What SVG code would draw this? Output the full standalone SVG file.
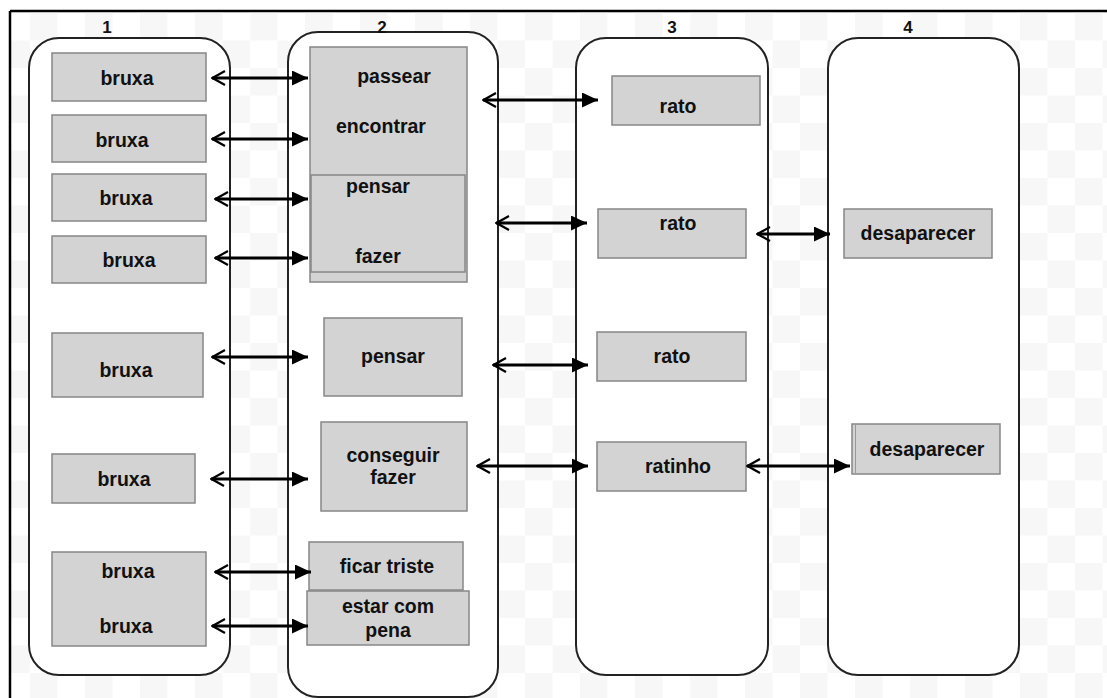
<svg xmlns="http://www.w3.org/2000/svg" width="1107" height="698" viewBox="0 0 1107 698">
<style>
.col{fill:#fff;stroke:#222;stroke-width:2}
.box{fill:#d3d3d3;stroke:#878787;stroke-width:1.5}
.t{font-family:"Liberation Sans",Arial,sans-serif;font-weight:bold;font-size:19.5px;fill:#111;text-anchor:middle}
.n{font-family:"Liberation Sans",Arial,sans-serif;font-weight:bold;font-size:17px;fill:#111;text-anchor:middle}
.c{stroke:#000;stroke-width:3;fill:none;marker-end:url(#head);marker-start:url(#tail)}
</style>
<defs>
<pattern id="chk" x="30" y="13" width="55" height="55" patternUnits="userSpaceOnUse">
<rect width="27.5" height="27.5" fill="#f7f7f7"/>
<rect x="27.5" y="27.5" width="27.5" height="27.5" fill="#f7f7f7"/>
</pattern>
<marker id="head" markerUnits="userSpaceOnUse" markerWidth="17" markerHeight="15" refX="16" refY="7.5" orient="auto">
<path d="M0,0 L16,7.5 L0,15 z" fill="#000"/>
</marker>
<marker id="tail" markerUnits="userSpaceOnUse" markerWidth="17" markerHeight="17" refX="1" refY="8" orient="auto">
<path d="M14,1 L1.5,8 L14,15" fill="none" stroke="#000" stroke-width="2.2"/>
</marker>
</defs>
<rect width="1107" height="698" fill="#fff"/>
<rect x="11" y="12" width="1096" height="686" fill="url(#chk)"/>
<g id="frame">
<line x1="10" y1="11" x2="1107" y2="11" stroke="#000" stroke-width="2.5"/>
<line x1="10" y1="11" x2="10" y2="698" stroke="#000" stroke-width="2.5"/>
</g>
<g id="col1"><rect class="col" x="29" y="38" width="201" height="637" rx="30"/><text class="n" x="107" y="33">1</text></g>
<g id="col2"><rect class="col" x="288" y="32" width="210" height="665" rx="30"/><text class="n" x="382" y="33">2</text></g>
<g id="col3"><rect class="col" x="576" y="38" width="192" height="637" rx="30"/><text class="n" x="672" y="33">3</text></g>
<g id="col4"><rect class="col" x="828" y="38" width="191" height="637" rx="30"/><text class="n" x="908" y="33">4</text></g>

<g id="b1"><rect class="box" x="52" y="53" width="154" height="48"/><text class="t" x="127" y="85">bruxa</text></g>
<g id="b2"><rect class="box" x="52" y="115" width="154" height="47"/><text class="t" x="122" y="147">bruxa</text></g>
<g id="b3"><rect class="box" x="52" y="174" width="154" height="47"/><text class="t" x="126" y="205">bruxa</text></g>
<g id="b4"><rect class="box" x="52" y="236" width="154" height="47"/><text class="t" x="129" y="267">bruxa</text></g>
<g id="b5"><rect class="box" x="52" y="333" width="151" height="64"/><text class="t" x="126" y="377">bruxa</text></g>
<g id="b6"><rect class="box" x="52" y="454" width="143" height="49"/><text class="t" x="124" y="486">bruxa</text></g>
<g id="b7"><rect class="box" x="52" y="552" width="154" height="94"/><text class="t" x="128" y="578">bruxa</text><text class="t" x="126" y="633">bruxa</text></g>

<g id="p1"><rect class="box" x="310" y="47" width="157" height="235"/><text class="t" x="394" y="83">passear</text><text class="t" x="381" y="133">encontrar</text></g>
<g id="p2"><rect class="box" x="311" y="175" width="154" height="97"/><text class="t" x="378" y="193">pensar</text><text class="t" x="378" y="263">fazer</text></g>
<g id="p3"><rect class="box" x="324" y="318" width="138" height="78"/><text class="t" x="393" y="363">pensar</text></g>
<g id="p4"><rect class="box" x="321" y="422" width="146" height="89"/><text class="t" x="393" y="462">conseguir</text><text class="t" x="393" y="484">fazer</text></g>
<g id="p5"><rect class="box" x="309" y="542" width="154" height="48"/><text class="t" x="387" y="573">ficar triste</text></g>
<g id="p6"><rect class="box" x="307" y="591" width="162" height="54" fill="#cdcdcd"/><text class="t" x="388" y="613">estar com</text><text class="t" x="388" y="637">pena</text></g>

<g id="r1"><rect class="box" x="612" y="76" width="148" height="49"/><text class="t" x="678" y="113">rato</text></g>
<g id="r2"><rect class="box" x="598" y="209" width="148" height="49"/><text class="t" x="678" y="230">rato</text></g>
<g id="r3"><rect class="box" x="597" y="332" width="149" height="49"/><text class="t" x="672" y="363">rato</text></g>
<g id="r4"><rect class="box" x="597" y="442" width="149" height="49"/><text class="t" x="678" y="473">ratinho</text></g>

<g id="d1"><rect class="box" x="844" y="209" width="148" height="49"/><text class="t" x="918" y="240">desaparecer</text></g>
<g id="d2"><rect class="box" x="852" y="424" width="148" height="50"/><line x1="855.5" y1="424" x2="855.5" y2="474" stroke="#999" stroke-width="1"/><text class="t" x="927" y="456">desaparecer</text></g>

<g id="connectors">
<line class="c" x1="212" y1="78" x2="308" y2="78"/>
<line class="c" x1="212" y1="139" x2="308" y2="139"/>
<line class="c" x1="215" y1="199" x2="308" y2="199"/>
<line class="c" x1="215" y1="258" x2="308" y2="258"/>
<line class="c" x1="212" y1="357" x2="308" y2="357"/>
<line class="c" x1="211" y1="479" x2="308" y2="479"/>
<line class="c" x1="215" y1="572" x2="311" y2="572"/>
<line class="c" x1="212" y1="626" x2="308" y2="626"/>
<line class="c" x1="483" y1="100" x2="598" y2="100"/>
<line class="c" x1="496" y1="223" x2="587" y2="223"/>
<line class="c" x1="493" y1="365" x2="588" y2="365"/>
<line class="c" x1="477" y1="466" x2="588" y2="466"/>
<line class="c" x1="757" y1="234" x2="830" y2="234"/>
<line class="c" x1="747" y1="466" x2="850" y2="466"/>
</g>
</svg>
